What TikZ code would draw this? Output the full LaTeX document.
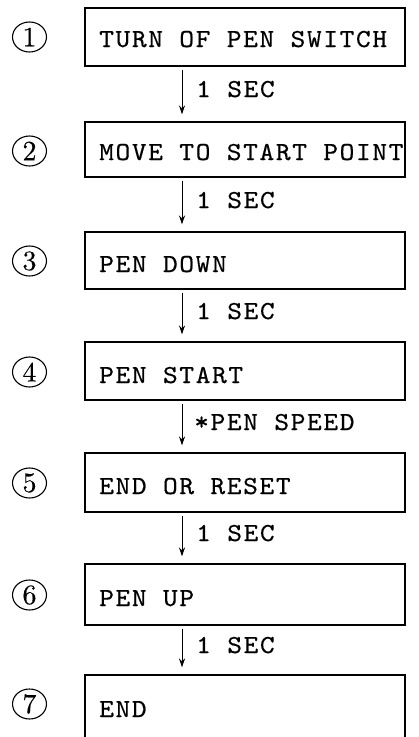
\documentclass[tikz,border=0pt]{standalone}
\usepackage{fontspec}
\newfontfamily\tw{lmmono10-regular.otf}[FakeStretch=1.08,LetterSpace=6.2,FakeBold=0.5]
\newfontfamily\dg{lmroman10-regular.otf}[FakeBold=0.3]
\usetikzlibrary{arrows.meta,shapes.geometric}
\begin{document}
\begin{tikzpicture}[x=1pt,y=-1pt,
  stepbox/.style={draw,line width=1.1pt,minimum width=320pt,inner sep=0pt},
  txt/.style={anchor=base west,inner sep=0pt,font=\tw\fontsize{26}{30}\selectfont},
  lbl/.style={anchor=base west,inner sep=0pt,font=\tw\fontsize{26}{30}\selectfont},
  numc/.style={draw,ellipse,line width=1.1pt,minimum width=34pt,minimum height=30pt,inner sep=0pt,font=\dg\fontsize{28}{30}\selectfont},
  arr/.style={line width=1pt,-{Stealth[length=9pt,width=6pt]},shorten <=3pt,shorten >=7pt}]
\useasboundingbox (0,0) rectangle (419,737);
\clip (0,0) rectangle (419,737);
\coordinate (ax) at (182,0);
% boxes
\node[stepbox,minimum height=58pt] (b1) at (245,37) {};
\node[stepbox,minimum height=55pt] (b2) at (245,149.5) {};
\node[stepbox,minimum height=57pt] (b3) at (245,260.5) {};
\node[stepbox,minimum height=58pt] (b4) at (245,371) {};
\node[stepbox,minimum height=59pt] (b5) at (245,482.5) {};
\node[stepbox,minimum height=61pt] (b6) at (245,594.5) {};
\node[stepbox,minimum height=90pt] (b7) at (245,720) {};
% texts
\node[txt] (t1) at (99,47) {TURN OF PEN SWITCH};
\node[txt] (t2) at (99,160) {MOVE TO START POINT};
\node[txt] (t3) at (99,272) {PEN DOWN};
\node[txt] (t4) at (99,383) {PEN START};
\node[txt] (t5) at (99,494) {END OR RESET};
\node[txt] (t6) at (99,606) {PEN UP};
\node[txt] (t7) at (99,717) {END};
% numbers
\node[numc] (n1) at (29.5,37) {1};
\node[numc] (n2) at (29.5,151) {2};
\node[numc] (n3) at (29.5,261) {3};
\node[numc] (n4) at (29.5,372) {4};
\node[numc] (n5) at (29.5,483) {5};
\node[numc] (n6) at (29.5,595) {6};
\node[numc] (n7) at (29.5,704) {7};
% arrows
\draw[arr] (b1.south -| ax) -- (b2.north -| ax);
\draw[arr] (b2.south -| ax) -- (b3.north -| ax);
\draw[arr] (b3.south -| ax) -- (b4.north -| ax);
\draw[arr] (b4.south -| ax) -- (b5.north -| ax);
\draw[arr] (b5.south -| ax) -- (b6.north -| ax);
\draw[arr] (b6.south -| ax) -- (b7.north -| ax);
% labels
\node[lbl] (l1) at (196,97) {1 SEC};
\node[lbl] (l2) at (196,208) {1 SEC};
\node[lbl] (l3) at (196,319) {1 SEC};
\node[lbl] (l4) at (194,430) {*PEN SPEED};
\node[lbl] (l5) at (196,541) {1 SEC};
\node[lbl] (l6) at (196,653) {1 SEC};
\end{tikzpicture}
\end{document}
